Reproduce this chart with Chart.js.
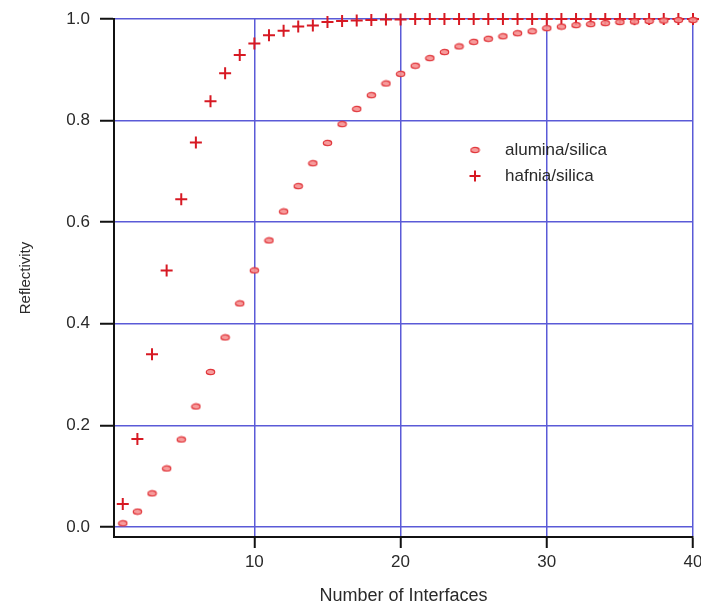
<!DOCTYPE html>
<html>
<head>
<meta charset="utf-8">
<script src="https://cdn.jsdelivr.net/npm/chart.js@4/dist/chart.umd.min.js"></script>
<style>
  html, body { margin: 0; padding: 0; background: #fff; }
  #wrap { width: 701px; height: 609px; }
</style>
</head>
<body>
<div id="wrap"><canvas id="chart" width="701" height="609"></canvas></div>
<script>
// numero di interfacce
const interfacce = [1, 2, 3, 4, 5, 6, 7, 8, 9, 10, 11, 12, 13, 14, 15, 16, 17, 18, 19, 20,
  21, 22, 23, 24, 25, 26, 27, 28, 29, 30, 31, 32, 33, 34, 35, 36, 37, 38, 39, 40];

const alumina = [0.007, 0.030, 0.066, 0.115, 0.172, 0.237, 0.305, 0.373, 0.440, 0.505,
  0.564, 0.621, 0.671, 0.716, 0.756, 0.793, 0.823, 0.850, 0.873, 0.892,
  0.908, 0.923, 0.935, 0.946, 0.955, 0.961, 0.966, 0.972, 0.976, 0.982,
  0.985, 0.988, 0.990, 0.992, 0.994, 0.995, 0.996, 0.997, 0.998, 0.998];

const hafnia = [0.045, 0.173, 0.340, 0.505, 0.645, 0.757, 0.838, 0.893, 0.929, 0.952,
  0.968, 0.977, 0.985, 0.987, 0.994, 0.996, 0.997, 0.998, 0.999, 0.999,
  1.0, 1.0, 1.0, 1.0, 1.0, 1.0, 1.0, 1.0, 1.0, 1.0,
  1.0, 1.0, 1.0, 1.0, 1.0, 1.0, 1.0, 1.0, 1.0, 1.0];

const etichette = ["alumina/silica", "hafnia/silica"];
const xTicks = [10, 20, 30, 40];
const yTicks = [0.0, 0.2, 0.4, 0.6, 0.8, 1.0];

const ROSSO = "rgb(215,25,35)";
const BLU = "rgb(90,90,215)";
const FONT = "'Liberation Sans', Arial, sans-serif";

// marker ellittico per alumina
const creaEllisse = () => {
  const c = document.createElement("canvas");
  c.width = 11; c.height = 8;
  const ctx = c.getContext("2d");
  ctx.beginPath();
  ctx.ellipse(5.5, 4, 4.2, 2.6, 0, 0, Math.PI * 2);
  ctx.fillStyle = "rgba(245,145,145,0.9)";
  ctx.fill();
  ctx.lineWidth = 1.2;
  ctx.strokeStyle = "rgb(225,55,60)";
  ctx.stroke();
  return c;
};
const ellisse = creaEllisse();

const punti = (ys) => interfacce.map((x, i) => ({ x, y: ys[i] }));

// legenda disegnata dentro l'area del grafico
const legendaInterna = {
  id: "legendaInterna",
  afterDatasetsDraw(chart) {
    const ctx = chart.ctx;
    const x0 = 475, y0 = 150, passo = 26;
    ctx.save();
    chart.data.datasets.forEach((ds, i) => {
      const y = y0 + i * passo;
      if (i === 0) {
        ctx.drawImage(ellisse, x0 - 5.5, y - 4);
      } else {
        ctx.strokeStyle = ROSSO;
        ctx.lineWidth = 2;
        ctx.beginPath();
        ctx.moveTo(x0 - 5.5, y); ctx.lineTo(x0 + 5.5, y);
        ctx.moveTo(x0, y - 5.5); ctx.lineTo(x0, y + 5.5);
        ctx.stroke();
      }
      ctx.fillStyle = "#2a2a2a";
      ctx.font = "17px " + FONT;
      ctx.textBaseline = "middle";
      ctx.fillText(ds.label, x0 + 30, y);
    });
    ctx.restore();
  }
};

new Chart(document.getElementById("chart"), {
  type: "scatter",
  data: {
    datasets: [
      {
        label: etichette[0],
        data: punti(alumina),
        pointStyle: ellisse,
        pointRadius: 5,
        clip: false
      },
      {
        label: etichette[1],
        data: punti(hafnia),
        pointStyle: "cross",
        pointRadius: 6,
        borderColor: ROSSO,
        borderWidth: 2,
        clip: false
      }
    ]
  },
  options: {
    responsive: false,
    animation: false,
    layout: { padding: { top: 19, right: 6, bottom: 0, left: 0 } },
    plugins: {
      legend: { display: false },
      tooltip: { enabled: false }
    },
    scales: {
      x: {
        type: "linear",
        min: 0.4,
        max: 40,
        afterBuildTicks: (s) => { s.ticks = xTicks.map(v => ({ value: v })); },
        afterFit: (s) => { s.height = 72; s.paddingLeft = 0; s.paddingRight = 0; },
        grid: { color: BLU, lineWidth: 1.5, tickColor: "#111", tickLength: 11, tickWidth: 2 },
        border: { display: true, color: "#111", width: 2 },
        ticks: { color: "#2a2a2a", font: { family: FONT, size: 17 }, padding: 4, maxRotation: 0 },
        title: {
          display: true,
          text: "Number of Interfaces",
          color: "#2a2a2a",
          font: { family: FONT, size: 18 },
          padding: { top: 0, bottom: 2 }
        }
      },
      y: {
        min: -0.02,
        max: 1.0,
        afterBuildTicks: (s) => { s.ticks = yTicks.map(v => ({ value: v })); },
        afterFit: (s) => { s.width = 114; s.paddingTop = 0; s.paddingBottom = 0; },
        grid: { color: BLU, lineWidth: 1.5, tickColor: "#111", tickLength: 14, tickWidth: 2 },
        border: { display: true, color: "#111", width: 2 },
        ticks: {
          color: "#2a2a2a",
          font: { family: FONT, size: 17 },
          padding: 10,
          callback: (v) => v.toFixed(1)
        },
        title: {
          display: true,
          text: "Reflectivity",
          color: "#2a2a2a",
          font: { family: FONT, size: 15 },
          padding: { top: 17, bottom: 0 }
        }
      }
    }
  },
  plugins: [legendaInterna]
});
</script>
</body>
</html>
